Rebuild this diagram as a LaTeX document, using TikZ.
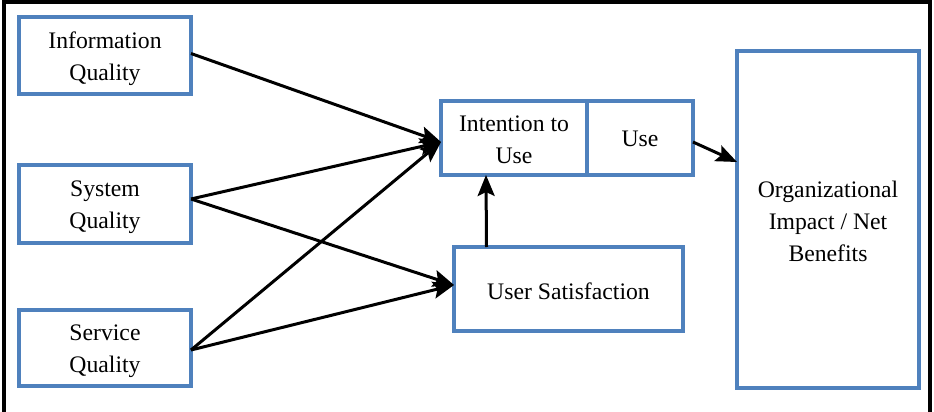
\documentclass[tikz,border=0pt]{standalone}
\usepackage{fontspec}
\setmainfont{Liberation Serif}
\usetikzlibrary{arrows.meta}
\definecolor{boxblue}{RGB}{79,129,189}
\begin{document}
\begin{tikzpicture}[x=1pt,y=-1pt,
  box/.style={draw=boxblue, line width=4pt, fill=white, outer sep=0pt, inner sep=0pt},
  txt/.style={align=center, inner sep=0pt, font=\fontsize{23.7}{32}\selectfont},
  arr/.style={line width=3pt, -{Stealth[length=21pt,width=17pt,inset=4pt]}},
  frame/.style={line width=4pt, black}]
\useasboundingbox (0,0) rectangle (934,412);
\draw[frame] (3.5,430) -- (3.5,2) -- (930,2) -- (930,430);
\node[box, minimum width=172pt, minimum height=77pt] (iq) at (105,55.5) {};
\node[box, minimum width=172pt, minimum height=78pt] (sq) at (105,204) {};
\node[box, minimum width=172pt, minimum height=76pt] (sv) at (105,348) {};
\node[box, minimum width=146pt, minimum height=74pt] (it) at (514,138) {};
\node[box, minimum width=106pt, minimum height=74pt] (use) at (640,138) {};
\node[box, minimum width=229pt, minimum height=84pt] (us) at (568.5,289) {};
\node[box, minimum width=182pt, minimum height=337pt] (org) at (828,219.5) {};
\node[txt] (iqt) at ([yshift=-3pt]iq.center) {Information\\Quality};
\node[txt] (sqt) at ([yshift=-3pt]sq.center) {System\\Quality};
\node[txt] (svt) at ([yshift=-3pt]sv.center) {Service\\Quality};
\node[txt] (itt) at ([yshift=-2pt]it.center) {Intention to\\Use};
\node[txt] (uset) at ([yshift=-1pt]use.center) {Use};
\node[txt] (ust) at ([yshift=-2pt]us.center) {User Satisfaction};
\node[txt] (orgt) at ([yshift=-2pt]org.center) {Organizational\\Impact / Net\\Benefits};
\draw[arr] ([yshift=2pt]iq.east) -- ([yshift=-4pt]it.west);
\draw[arr] ([yshift=5pt]sq.east) -- ([yshift=-4pt]it.west);
\draw[arr] ([yshift=-2pt]sv.east) -- ([yshift=-4pt]it.west);
\draw[arr] ([yshift=5pt]sq.east) -- ([yshift=4pt]us.west);
\draw[arr] ([yshift=-2pt]sv.east) -- ([yshift=4pt]us.west);
\draw[arr] ([xshift=-82pt]us.north) -- ([xshift=-28pt]it.south);
\draw[arr] ([yshift=-4pt]use.east) -- ([yshift=57.5pt]org.west);
\end{tikzpicture}
\end{document}
